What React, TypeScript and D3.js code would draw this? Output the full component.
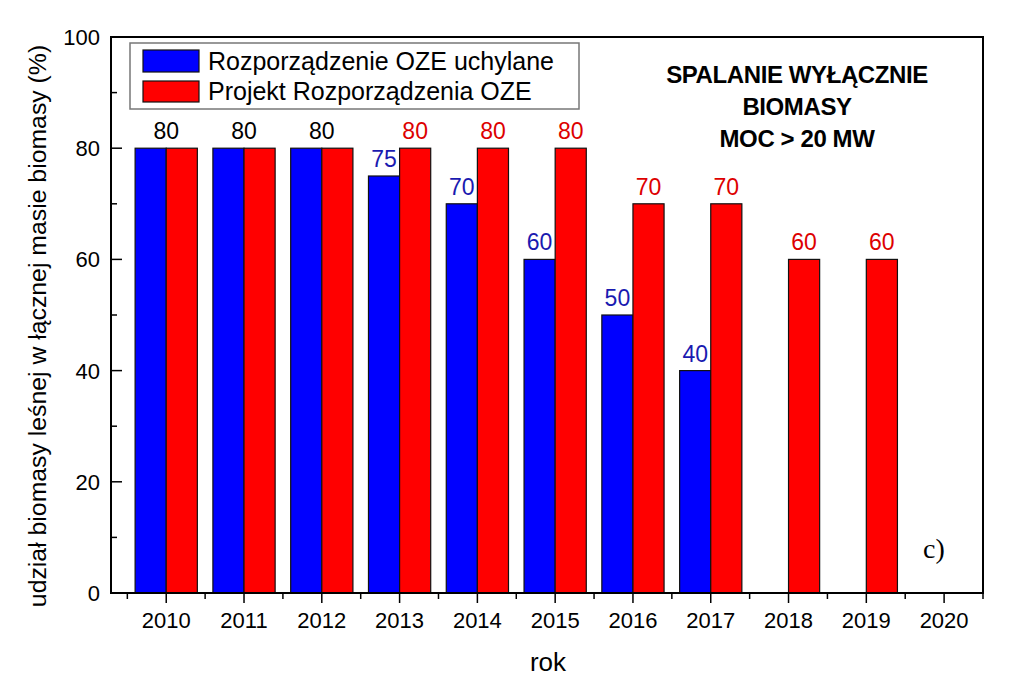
import React from "react";
import * as d3 from "d3";

const years = ["2010","2011","2012","2013","2014","2015","2016","2017","2018","2019","2020"];
const blueValues: (number|null)[] = [80, 80, 80, 75, 70, 60, 50, 40, null, null, null];
const redValues: (number|null)[] = [80, 80, 80, 80, 80, 80, 70, 70, 60, 60, null];
const yTicks = [0, 20, 40, 60, 80, 100];
const yMinor = [10, 30, 50, 70, 90];
const legendLabels = ["Rozporządzenie OZE uchylane", "Projekt Rozporządzenia OZE"];
const titleLines = ["SPALANIE WYŁĄCZNIE", "BIOMASY", "MOC > 20 MW"];

const BLUE = "#0000ff";
const RED = "#ff0000";

export default function App() {
  const W = 1024, H = 697;
  const left = 111, right = 983, top = 37, bottom = 593;
  const x = d3.scaleLinear().domain([-0.71, 10.5]).range([left, right]);
  const y = d3.scaleLinear().domain([0, 100]).range([bottom, top]);
  const unit = x(1) - x(0);
  const bw = unit * 0.4;
  const font = "Liberation Sans, Arial, sans-serif";

  return (
    <svg width={W} height={H} style={{ position: "absolute", left: 0, top: 0, background: "#fff" }} fontFamily={font}>
      <rect x={0} y={0} width={W} height={H} fill="#fff" />
      {/* bars */}
      {years.map((yr, i) => {
        const b = blueValues[i], r = redValues[i];
        const cx = x(i);
        return (
          <g key={yr}>
            {b != null && (
              <rect x={cx - bw} y={y(b)} width={bw} height={y(0) - y(b)} fill={BLUE} stroke="#111" strokeWidth={1.2} />
            )}
            {r != null && (
              <rect x={cx} y={y(r)} width={bw} height={y(0) - y(r)} fill={RED} stroke="#111" strokeWidth={1.2} />
            )}
          </g>
        );
      })}
      {/* value labels */}
      {years.map((yr, i) => {
        const b = blueValues[i], r = redValues[i];
        const cx = x(i);
        if (b != null && r != null && b === r) {
          return <text key={yr} x={cx} y={y(b) - 9} textAnchor="middle" fontSize={23} fill="#000">{b}</text>;
        }
        return (
          <g key={yr}>
            {b != null && <text x={cx - bw / 2} y={y(b) - 9} textAnchor="middle" fontSize={23} fill="#1a1ab0">{b}</text>}
            {r != null && <text x={cx + bw / 2} y={y(r) - 9} textAnchor="middle" fontSize={23} fill="#dd0000">{r}</text>}
          </g>
        );
      })}
      {/* frame */}
      <rect x={left} y={top} width={right - left} height={bottom - top} fill="none" stroke="#000" strokeWidth={2} />
      {/* y ticks (inward) */}
      {yTicks.map(t => (
        <g key={"yt" + t}>
          <line x1={left} x2={left + 11} y1={y(t)} y2={y(t)} stroke="#000" strokeWidth={1.5} />
          <text x={left - 11} y={y(t) + 8} textAnchor="end" fontSize={22}>{t}</text>
        </g>
      ))}
      {yMinor.map(t => (
        <line key={"ym" + t} x1={left} x2={left + 6} y1={y(t)} y2={y(t)} stroke="#000" strokeWidth={1.5} />
      ))}
      {/* x ticks (outward) */}
      {years.map((yr, i) => (
        <g key={"xt" + yr}>
          <line x1={x(i)} x2={x(i)} y1={bottom} y2={bottom + 10} stroke="#000" strokeWidth={1.5} />
          <text x={x(i)} y={bottom + 35} textAnchor="middle" fontSize={22}>{yr}</text>
        </g>
      ))}
      {d3.range(-0.5, 10.6, 1).map(v => (
        <line key={"xm" + v} x1={x(v)} x2={x(v)} y1={bottom} y2={bottom + 6} stroke="#000" strokeWidth={1.5} />
      ))}
      {/* axis titles */}
      <text x={548} y={671} textAnchor="middle" fontSize={26}>rok</text>
      <text transform={`translate(46, 326) rotate(-90)`} textAnchor="middle" fontSize={24.8}>
        udział biomasy leśnej w łącznej masie biomasy (%)
      </text>
      {/* legend */}
      <rect x={130} y={43} width={449} height={66} fill="#fff" stroke="#777" strokeWidth={1.5} />
      <rect x={143} y={50} width={56} height={22} fill={BLUE} stroke="#111" strokeWidth={1.2} />
      <rect x={143} y={81} width={56} height={21} fill={RED} stroke="#111" strokeWidth={1.2} />
      <text x={208} y={70} fontSize={25}>{legendLabels[0]}</text>
      <text x={208} y={100} fontSize={25}>{legendLabels[1]}</text>
      {/* title */}
      {titleLines.map((t, i) => (
        <text key={t} x={797} y={83 + i * 32} textAnchor="middle" fontSize={24} fontWeight="bold" letterSpacing={-0.4}>{t}</text>
      ))}
      <text x={934} y={558} textAnchor="middle" fontSize={28} fontFamily="Liberation Serif, Times New Roman, serif">c)</text>
    </svg>
  );
}
